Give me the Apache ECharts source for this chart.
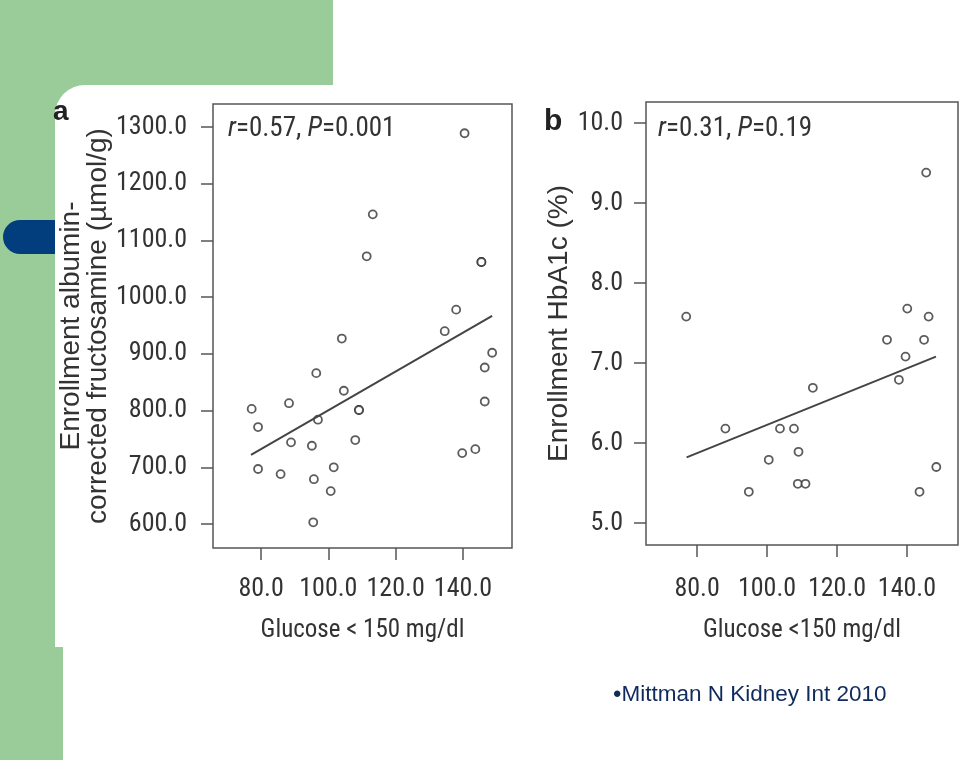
<!DOCTYPE html>
<html><head><meta charset="utf-8">
<script src="https://cdn.jsdelivr.net/npm/echarts@6/dist/echarts.min.js"></script>
<style>html,body{margin:0;padding:0;background:#fff}#c{width:960px;height:760px}</style>
</head><body><div id="c"></div><script>
// Panel a: glucose vs albumin-corrected fructosamine
const glucoseA = [140.5,113.2,111.4,145.5,145.5,138.0,134.6,104.0,148.7,146.5,96.4,104.6,146.5,88.3,77.2,109.1,109.1,96.9,79.1,88.9,108.0,95.1,143.7,139.8,79.1,101.6,85.8,95.7,100.7,95.5];
const fructosamineA = [1289,1146,1072,1062,1062,978,940,927,902,876,866,835,816,813,803,801,801,784,771,744,748,738,732,725,697,700,688,679,658,603];
const fitA = [[77.0,722],[148.7,967]];
// Panel b: glucose vs HbA1c
const glucoseB = [145.5,76.9,140.1,146.2,134.3,144.9,139.6,137.7,113.1,88.1,103.7,107.7,109.0,100.5,148.4,108.8,111.0,94.8,143.6];
const hba1cB = [9.38,7.58,7.68,7.58,7.29,7.29,7.08,6.79,6.69,6.18,6.18,6.18,5.89,5.79,5.70,5.49,5.49,5.39,5.39];
const fitB = [[77.0,5.82],[148.3,7.08]];
const xTicks = [80,100,120,140];
const yTicksA = [600,700,800,900,1000,1100,1200,1300];
const yTicksB = [5,6,7,8,9,10];

const NARROW = '"Roboto Condensed","Liberation Sans",sans-serif';
const SANS = '"Liberation Sans",Arial,sans-serif';
const TXT = '#333';
const LINE = '#555';

function pts(xs, ys){ return xs.map((x,i)=>[x,ys[i]]); }
const fmt = v => Number(v).toFixed(1);

function xAxis(gi, min, max, name, margin, gap){
  return {type:'value', gridIndex:gi, min, max,
    splitLine:{show:false}, axisLine:{show:false},
    axisTick:{show:true, length:12, customValues:xTicks, lineStyle:{color:LINE,width:1.5}},
    axisLabel:{customValues:xTicks, formatter:fmt, margin, color:TXT, fontFamily:NARROW, fontSize:26},
    name, nameLocation:'middle', nameGap:gap,
    nameTextStyle:{color:TXT, fontFamily:NARROW, fontSize:25}};
}
function yAxis(gi, min, max, ticks, name, margin, gap, lh){
  return {type:'value', gridIndex:gi, min, max,
    splitLine:{show:false}, axisLine:{show:false},
    axisTick:{show:true, length:12, customValues:ticks, lineStyle:{color:LINE,width:1.5}},
    axisLabel:{customValues:ticks, formatter:fmt, margin, color:TXT, fontFamily:NARROW, fontSize:26},
    name, nameLocation:'middle', nameRotate:90, nameGap:gap,
    nameTextStyle:{color:TXT, fontFamily:SANS, fontSize:28, lineHeight:lh}};
}
function scatter(xi, data){
  return {type:'scatter', xAxisIndex:xi, yAxisIndex:xi, data, symbol:'circle', symbolSize:8,
    itemStyle:{color:'#fff', borderColor:'#333', borderWidth:1.8}, silent:true};
}
function fit(xi, data){
  return {type:'line', xAxisIndex:xi, yAxisIndex:xi, data, symbol:'none',
    lineStyle:{color:'#444', width:2}, silent:true};
}
const GREEN = '#99cc99';
const chart = echarts.init(document.getElementById('c'), null, {renderer:'canvas'});
chart.setOption({
  backgroundColor:'#fff',
  animation:false,
  graphic:[
    {type:'rect', z:-10, shape:{x:0,y:0,width:333,height:130}, style:{fill:GREEN}},
    {type:'rect', z:-10, shape:{x:0,y:0,width:63,height:760}, style:{fill:GREEN}},
    {type:'rect', z:-9, shape:{x:3,y:220,width:60,height:34,r:[17,0,0,17]}, style:{fill:'#023e7d'}},
    {type:'rect', z:-8, shape:{x:55,y:85,width:905,height:562,r:[30,0,0,0]}, style:{fill:'#fff'}}
  ],
  title:[
    {text:'a', left:53, top:98, textStyle:{fontFamily:SANS, fontWeight:'bold', fontSize:28, color:'#222'}, padding:0},
    {text:'b', left:544, top:107, textStyle:{fontFamily:SANS, fontWeight:'bold', fontSize:30, color:'#222'}, padding:0},
    {text:'{i|r}=0.57, {i|P}=0.001', left:228, top:116, padding:0,
      textStyle:{rich:{i:{fontStyle:'italic', fontFamily:NARROW, fontSize:27, color:TXT}}, fontFamily:NARROW, fontSize:27, color:TXT, fontWeight:'normal'}},
    {text:'{i|r}=0.31, {i|P}=0.19', left:658, top:116, padding:0,
      textStyle:{rich:{i:{fontStyle:'italic', fontFamily:NARROW, fontSize:27, color:TXT}}, fontFamily:NARROW, fontSize:27, color:TXT, fontWeight:'normal'}},
    {text:'{b|•}Mittman N Kidney Int 2010', left:613, top:683, padding:0,
      textStyle:{fontFamily:SANS, fontSize:22.5, fontWeight:'normal', color:'#0f2b5b', rich:{b:{fontSize:24, color:'#0f2b5b', fontFamily:SANS}}}}
  ],
  grid:[
    {left:213, top:104, width:299, height:444, show:true, borderColor:LINE, borderWidth:1.5, backgroundColor:'transparent'},
    {left:646, top:102, width:312, height:443, show:true, borderColor:LINE, borderWidth:1.5, backgroundColor:'transparent'}
  ],
  xAxis:[
    xAxis(0, 65.7, 154.6, 'Glucose < 150 mg/dl', 28, 70),
    xAxis(1, 65.4, 154.6, 'Glucose <150 mg/dl', 31, 73)
  ],
  yAxis:[
    yAxis(0, 557.7, 1340.6, yTicksA, 'Enrollment albumin-\ncorrected fructosamine (µmol/g)', 26, 99, 27),
    yAxis(1, 4.725, 10.2625, yTicksB, 'Enrollment HbA1c (%)', 23, 68, 28)
  ],
  series:[
    scatter(0, pts(glucoseA, fructosamineA)),
    fit(0, fitA),
    scatter(1, pts(glucoseB, hba1cB)),
    fit(1, fitB)
  ]
});
</script></body></html>
